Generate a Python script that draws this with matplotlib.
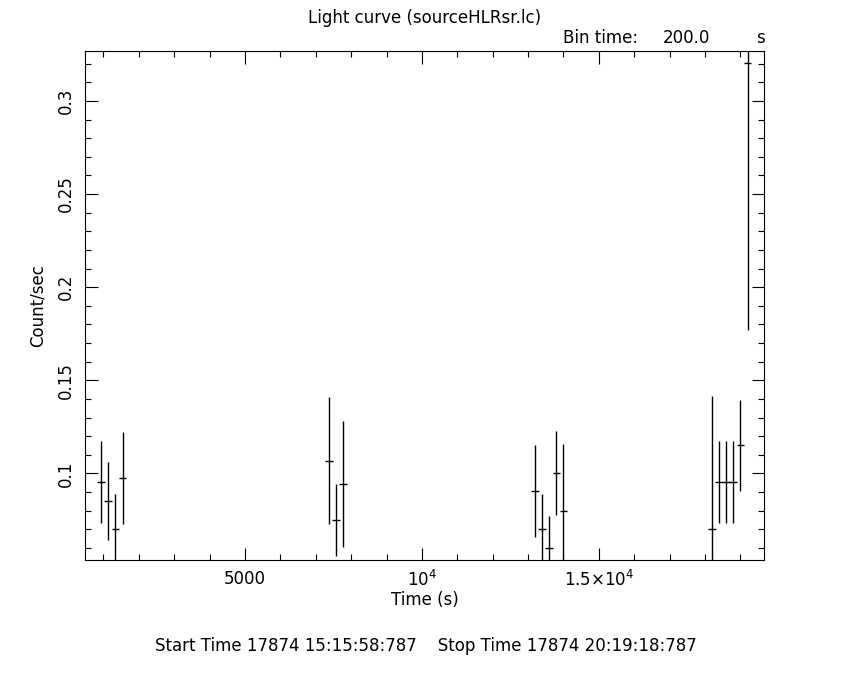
import matplotlib
matplotlib.use("Agg")
import matplotlib.pyplot as plt
from matplotlib.ticker import MultipleLocator, FixedLocator, FixedFormatter

# light curve bins (s), count rate and 1-sigma errors
time_s = [940, 1140, 1340, 1540,
          7380, 7580, 7780,
          13200, 13400, 13600, 13800, 14000,
          18200, 18400, 18600, 18800, 19000, 19200]
rate = [0.0953, 0.0851, 0.0700, 0.0975,
        0.1068, 0.0749, 0.0942,
        0.0906, 0.0702, 0.0600, 0.1003, 0.0799,
        0.0700, 0.0953, 0.0953, 0.0953, 0.1152, 0.3203]
rate_err = [0.0220, 0.0210, 0.0190, 0.0247,
            0.0340, 0.0194, 0.0338,
            0.0245, 0.0188, 0.0172, 0.0227, 0.0360,
            0.0713, 0.0220, 0.0220, 0.0220, 0.0244, 0.1435]
half_bin = 110

x_ticks = [5000, 10000, 15000]
x_labels = ['5000', r'$10^4$', r'$1.5{\times}10^4$']
y_ticks = [0.1, 0.15, 0.2, 0.25, 0.3]
y_labels = ['0.1', '0.15', '0.2', '0.25', '0.3']

plt.rcParams['font.family'] = 'DejaVu Sans'
plt.rcParams['mathtext.default'] = 'regular'
fs = 12

fig = plt.figure(figsize=(8.5, 6.8), dpi=100)
ax = fig.add_axes([0.1, 0.1765, 0.799, 0.749])

ax.errorbar(time_s, rate, xerr=half_bin, yerr=rate_err, fmt='none',
            ecolor='k', elinewidth=1.0, capsize=0)

ax.set_xlim(480, 19670)
ax.set_ylim(0.0535, 0.327)

ax.xaxis.set_major_locator(FixedLocator(x_ticks))
ax.xaxis.set_major_formatter(FixedFormatter(x_labels))
ax.xaxis.set_minor_locator(MultipleLocator(1000))
ax.yaxis.set_major_locator(FixedLocator(y_ticks))
ax.yaxis.set_major_formatter(FixedFormatter(y_labels))
ax.yaxis.set_minor_locator(MultipleLocator(0.01))

ax.tick_params(which='both', direction='in', top=True, right=True,
               labelsize=fs, width=0.8, colors='k')
ax.tick_params(which='major', length=9, pad=7)
ax.tick_params(which='minor', length=4.5)
for lab in ax.get_yticklabels():
    lab.set_rotation(90)
    lab.set_va('center')
for sp in ax.spines.values():
    sp.set_linewidth(0.8)

ax.set_xlabel('Time (s)', fontsize=fs, labelpad=1)
ax.set_ylabel('Count/sec', fontsize=fs, labelpad=8)

fig.text(0.5, 1 - 18 / 680, 'Light curve (sourceHLRsr.lc)', ha='center', va='center', fontsize=fs)
fig.text(563 / 850, 1 - 38 / 680, 'Bin time:', ha='left', va='center', fontsize=fs)
fig.text(710 / 850, 1 - 38 / 680, '200.0', ha='right', va='center', fontsize=fs)
fig.text(760 / 850, 1 - 38 / 680, 's', ha='center', va='center', fontsize=fs)
fig.text(426 / 850, 1 - 646 / 680,
         'Start Time 17874 15:15:58:787    Stop Time 17874 20:19:18:787',
         ha='center', va='center', fontsize=fs)

fig.savefig('out.png', dpi=100, facecolor='white')
